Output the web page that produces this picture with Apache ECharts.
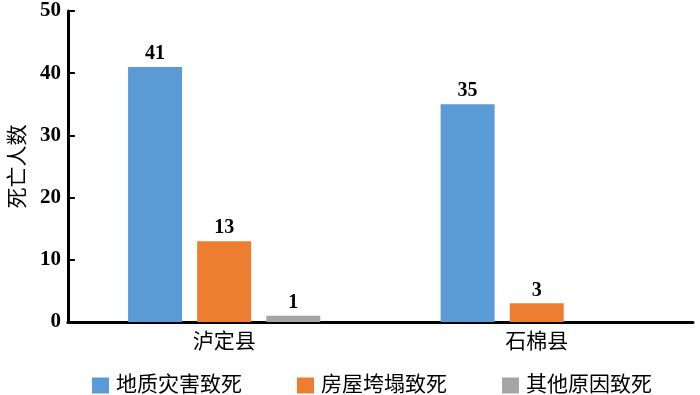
<!DOCTYPE html>
<html><head><meta charset="utf-8">
<script src="https://cdn.jsdelivr.net/npm/echarts@6/dist/echarts.min.js"></script>
<style>html,body{margin:0;padding:0;background:#fff}#c{width:700px;height:395px}</style>
</head><body><div id="c"></div>
<script>
const categories = ['泸定县', '石棉县'];
const seriesNames = ['地质灾害致死', '房屋垮塌致死', '其他原因致死'];
const geoDeaths = [41, 35];
const collapseDeaths = [13, 3];
const otherDeaths = [1, null];
const yTicks = [0, 10, 20, 30, 40, 50];
const colors = ['#5B9BD5', '#ED7D31', '#A5A5A5'];

const FONT = '"Liberation Serif", "Noto Sans CJK SC", serif';
const chart = echarts.init(document.getElementById('c'));
const mk = (name, data, color) => ({
  name, type: 'bar', data, barWidth: 54, barGap: '28%',
  itemStyle: { color },
  label: { show: true, position: 'top', distance: 3, color: '#000', fontFamily: FONT, fontSize: 20, fontWeight: 'bold' }
});
chart.setOption({
  animation: false,
  textStyle: { fontFamily: FONT },
  grid: { left: 66, right: 7, top: 11, bottom: 73, containLabel: false },
  legend: {
    left: 87, top: 370, itemWidth: 17, itemHeight: 16, itemGap: 55,
    icon: 'rect',
    textStyle: { fontFamily: FONT, fontSize: 21, color: '#000', padding: [0, 0, 0, 2] },
    data: seriesNames
  },
  xAxis: {
    type: 'category', data: categories,
    axisLine: { lineStyle: { color: '#000', width: 3 } },
    axisTick: { show: false },
    axisLabel: { color: '#000', fontSize: 21, margin: 10, fontFamily: FONT }
  },
  yAxis: {
    type: 'value', min: yTicks[0], max: yTicks[yTicks.length - 1], interval: 10,
    name: '死亡人数', nameLocation: 'middle', nameRotate: 90, nameGap: 36,
    nameTextStyle: { color: '#000', fontSize: 21, fontFamily: FONT },
    axisLine: { show: true, lineStyle: { color: '#000', width: 3 } },
    axisTick: { show: true, inside: true, length: 7, lineStyle: { color: '#000', width: 2 } },
    splitLine: { show: false },
    axisLabel: { color: '#000', fontSize: 21, fontWeight: 'bold', margin: 7, fontFamily: FONT }
  },
  series: [
    mk(seriesNames[0], geoDeaths, colors[0]),
    mk(seriesNames[1], collapseDeaths, colors[1]),
    mk(seriesNames[2], otherDeaths, colors[2])
  ]
});
</script></body></html>
